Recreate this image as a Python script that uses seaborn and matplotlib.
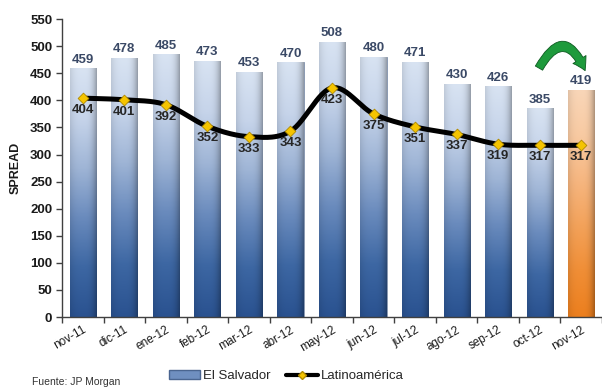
import numpy as np
import pandas as pd
import matplotlib
matplotlib.use("Agg")
import matplotlib.pyplot as plt
import seaborn as sns
from matplotlib.colors import LinearSegmentedColormap
from matplotlib.lines import Line2D
from matplotlib.patches import Patch, FancyArrowPatch

months = ["nov-11", "dic-11", "ene-12", "feb-12", "mar-12", "abr-12", "may-12",
          "jun-12", "jul-12", "ago-12", "sep-12", "oct-12", "nov-12"]
el_salvador = [459, 478, 485, 473, 453, 470, 508, 480, 471, 430, 426, 385, 419]
latam = [404, 401, 392, 352, 333, 343, 423, 375, 351, 337, 319, 317, 317]
y_ticks = [0, 50, 100, 150, 200, 250, 300, 350, 400, 450, 500, 550]

sns.set_theme(style="white")
plt.rcParams["font.family"] = ["Liberation Sans", "DejaVu Sans"]

df = pd.DataFrame({"mes": months, "El Salvador": el_salvador, "Latinoamérica": latam})

fig = plt.figure(figsize=(6.02, 3.89), dpi=100)
ax = fig.add_axes([0.103, 0.185, 0.897, 0.766])

sns.barplot(data=df, x="mes", y="El Salvador", ax=ax, color="#8fa9cf",
            width=0.63, edgecolor="#8090aa", linewidth=0.6, zorder=2)

# vertical + horizontal shading for a cylinder-like look
blue_cmap = LinearSegmentedColormap.from_list(
    "blue", ["#2a5290", "#3d67a3", "#6a8bbd", "#9fb5d6", "#c6d4ea", "#d8e3f2"])
orange_cmap = LinearSegmentedColormap.from_list(
    "orange", ["#ec7f1e", "#f08e36", "#f3a25a", "#f6b680", "#f8caa2", "#f9d6b8"])
nv, nh = 200, 40
vert = np.linspace(0, 1, nv)[:, None]
hx = np.linspace(-1, 1, nh)[None, :]
hshade = 1 - 0.10 * np.clip(-hx, 0, 1) ** 3 - 0.30 * np.clip(hx, 0, 1) ** 3

for i, patch in enumerate(ax.patches):
    x0, w = patch.get_x(), patch.get_width()
    h = patch.get_height()
    cmap = orange_cmap if i == len(months) - 1 else blue_cmap
    rgb = cmap(np.repeat(vert, nh, axis=1))[..., :3]
    rgb = rgb * hshade[..., None]
    img = ax.imshow(rgb, extent=(x0, x0 + w, 0, h), origin="lower",
                    aspect="auto", zorder=2.5, interpolation="bilinear")
    img.set_clip_path(patch)
    ax.text(x0 + w / 2, h + 5, f"{h:.0f}", ha="center", va="bottom",
            fontsize=9.5, fontweight="bold", color="#3a4966", zorder=5)

# smoothed Latin America curve (Catmull-Rom through the monthly values)
xs = np.arange(len(months), dtype=float)
ys = np.array(latam, dtype=float)
px = np.concatenate([[xs[0]], xs, [xs[-1]]])
py = np.concatenate([[ys[0]], ys, [ys[-1]]])
cx, cy = [], []
t = np.linspace(0, 1, 30)[:, None]
for k in range(1, len(px) - 2):
    p0 = np.array([px[k - 1], py[k - 1]])
    p1 = np.array([px[k], py[k]])
    p2 = np.array([px[k + 1], py[k + 1]])
    p3 = np.array([px[k + 2], py[k + 2]])
    seg = 0.5 * ((2 * p1) + (-p0 + p2) * t + (2 * p0 - 5 * p1 + 4 * p2 - p3) * t ** 2
                 + (-p0 + 3 * p1 - 3 * p2 + p3) * t ** 3)
    cx.append(seg[:, 0])
    cy.append(seg[:, 1])
ax.plot(np.concatenate(cx), np.concatenate(cy), color="black", lw=3.6,
        zorder=6, solid_capstyle="round")
sns.scatterplot(x=xs, y=ys, ax=ax, marker="D", s=30, color="#f5c400",
                edgecolor="#b08a00", linewidth=0.6, zorder=7, legend=False)
for xi, yi in zip(xs, latam):
    ax.text(xi, yi - 11, f"{yi}", ha="center", va="top", fontsize=9.5,
            fontweight="bold", color="#262626", zorder=8)

ax.set_xlim(-0.5, len(months) - 0.5)
ax.set_ylim(0, 550)
ax.set_yticks(y_ticks)
ax.set_yticklabels([str(v) for v in y_ticks], fontsize=9.5, fontweight="bold",
                   color="#1a1a1a")
ax.set_xticks(xs)
ax.set_xticklabels(months, rotation=30, ha="right", rotation_mode="anchor",
                   fontsize=8.5, color="#1a1a1a")
ax.tick_params(axis="x", length=0, pad=5)
ax.tick_params(axis="y", length=4, direction="out", left=True, width=1,
               color="#404040", pad=3)
# category separators on the bottom axis
ax.set_xticks(np.arange(-0.5, len(months), 1.0), minor=True)
ax.tick_params(axis="x", which="minor", length=4, direction="out",
               bottom=True, width=1, color="#404040")
ax.set_xlabel("")
ax.set_ylabel("SPREAD", fontsize=9, fontweight="bold", color="#1a1a1a", labelpad=6)
for s in ["top", "right"]:
    ax.spines[s].set_visible(False)
for s in ["left", "bottom"]:
    ax.spines[s].set_color("#404040")
    ax.spines[s].set_linewidth(1)

# curved arrow over the last two months
arrow = FancyArrowPatch((10.95, 455), (12.12, 450),
                        connectionstyle="arc3,rad=-1.05",
                        arrowstyle="simple,head_width=11,head_length=9,tail_width=6",
                        color="#1e9a3c", ec="#0d5a20", lw=0.6, zorder=9,
                        clip_on=False)
ax.add_patch(arrow)

handles = [Patch(facecolor="#6f8fc0", edgecolor="#4a6590"),
           Line2D([0], [0], color="black", lw=3, marker="D", markersize=4,
                  markerfacecolor="#f5c400", markeredgecolor="#b08a00")]
fig.legend(handles, ["El Salvador", "Latinoamérica"], loc="center",
           bbox_to_anchor=(0.475, 0.033), ncol=2, frameon=False, fontsize=9.5,
           handlelength=2.4, handletextpad=0.2, columnspacing=1.2)
fig.text(0.053, 0.005, "Fuente: JP Morgan", fontsize=7.5, color="#333333",
         ha="left", va="bottom")

fig.savefig("out.png", dpi=100)
